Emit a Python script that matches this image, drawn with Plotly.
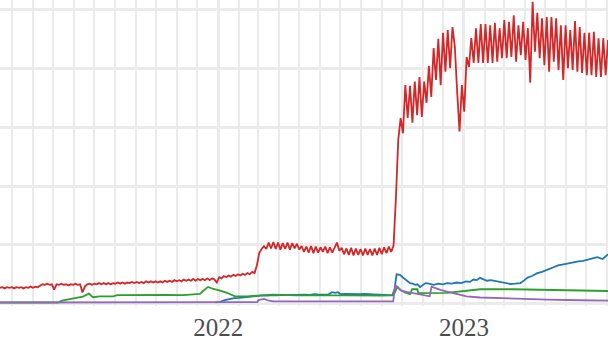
import pandas as pd
import plotly.graph_objects as go

# ---- red series: half-weekly samples starting 2021-02-11 ----
red_start = "2021-02-11"
red_values = [
    2.7, 2.8, 2.6, 2.8, 2.7, 2.8, 2.6, 2.8, 2.7, 2.8, 2.6, 2.8, 2.7, 2.9, 2.7, 2.9, 2.8,
    3.1, 3.3, 3.2, 3.4, 3.2, 3.3,
    2.4,
    3.3, 3.2, 3.4, 3.2, 3.3, 3.1, 3.3, 3.2, 3.4, 3.2, 3.3,
    1.9, 2.9,
    3.3, 3.4, 3.2, 3.4, 3.3, 3.5, 3.3, 3.5, 3.3, 3.5, 3.3, 3.5, 3.4, 3.6, 3.4, 3.6, 3.4, 3.6, 3.5,
    3.7, 3.5, 3.7, 3.5, 3.7, 3.5, 3.8, 3.6, 3.8, 3.6, 3.8, 3.6, 3.8, 3.6, 3.9,
    3.7, 3.9, 3.7, 4.0, 3.8, 4.0, 3.8, 4.1, 3.9, 4.1, 3.9, 4.2, 3.9, 4.2, 4.0, 4.2, 4.0, 4.3, 4.0, 4.3, 4.1,
    3.6,
    4.5, 4.3, 4.7, 4.5, 4.8, 4.6, 4.9, 4.7, 5.0, 4.8, 5.1, 4.9, 5.2, 5.0, 5.4,
    5.2, 6.5, 8.6, 9.3, 9.8,
    9.3, 10.4, 9.4, 10.5, 9.3, 10.4, 9.2, 10.3, 9.3, 10.4, 9.2, 10.3, 9.4, 10.2, 9.2,
    9.8, 8.8, 9.7, 8.7, 9.8, 8.6, 9.7, 8.7, 9.6, 8.8, 9.7, 8.6, 9.6, 8.7, 9.5,
    10.4, 9.0,
    9.5, 8.4, 9.4, 8.3, 9.5, 8.2, 9.4, 8.3, 9.3, 8.2, 9.4, 8.3, 9.3, 8.2, 9.4, 8.3, 9.5, 8.4, 9.6, 8.6, 9.7, 8.8, 9.9,
    18.0, 27.9,
    31.6, 29.0, 37.2, 31.6, 37.1, 30.8, 37.8, 32.1, 38.6, 31.8,
    37.8, 34.2, 40.5, 35.2, 43.5, 38.1, 45.1, 37.2, 46.1, 39.5,
    46.6, 40.1, 47.1, 43.8, 36.0, 29.3, 37.2, 32.7, 42.0, 40.3,
    45.2, 41.0, 46.9, 41.0, 47.6, 41.0, 47.6, 41.0, 47.4, 41.0, 47.8, 41.2,
    46.9, 41.8, 48.3, 41.8, 48.0, 42.0, 49.1, 41.2, 47.4, 42.3, 48.0, 41.5,
    46.9, 37.6, 51.4, 42.9, 49.5, 41.8, 48.6, 40.6, 48.8, 39.5, 48.8, 41.2,
    48.6, 39.8, 47.4, 38.1, 47.4, 40.1, 46.6, 39.8, 48.1, 39.5, 47.1, 39.3,
    46.1, 38.9, 46.1, 38.9, 46.3, 38.6, 45.2, 38.6, 45.2, 38.9, 44.9, 39.8,
]
red_dates = pd.date_range(red_start, periods=len(red_values), freq="84h")

# ---- blue series ----
blue_dates = [
    "2021-12-28", "2022-01-04", "2022-01-11", "2022-01-18", "2022-01-25", "2022-02-01",
    "2022-02-08", "2022-02-15", "2022-02-22", "2022-03-01", "2022-03-08", "2022-03-15",
    "2022-03-22", "2022-03-29", "2022-04-05", "2022-04-12", "2022-04-19", "2022-04-26",
    "2022-05-03", "2022-05-10", "2022-05-17", "2022-05-24", "2022-05-31", "2022-06-07",
    "2022-06-14", "2022-06-19", "2022-06-24", "2022-06-28", "2022-07-02", "2022-07-09",
    "2022-07-16", "2022-07-23", "2022-07-30", "2022-08-06", "2022-08-13", "2022-08-20",
    "2022-08-27", "2022-09-03", "2022-09-10", "2022-09-17", "2022-09-20", "2022-09-23",
    "2022-09-28", "2022-10-02", "2022-10-06", "2022-10-10", "2022-10-13", "2022-10-17",
    "2022-10-21", "2022-10-24", "2022-10-28", "2022-10-31", "2022-11-05", "2022-11-10",
    "2022-11-17", "2022-11-24", "2022-12-01", "2022-12-07", "2022-12-14", "2022-12-21",
    "2022-12-28", "2023-01-04", "2023-01-10", "2023-01-15", "2023-01-20", "2023-01-25",
    "2023-01-30", "2023-02-04", "2023-02-10", "2023-02-19", "2023-02-26", "2023-03-05",
    "2023-03-11", "2023-03-18", "2023-03-26", "2023-04-01", "2023-04-05", "2023-04-12",
    "2023-04-20", "2023-04-27", "2023-05-05", "2023-05-10", "2023-05-14", "2023-05-21",
    "2023-05-29", "2023-06-05", "2023-06-13", "2023-06-20", "2023-06-27", "2023-07-03",
    "2023-07-10", "2023-07-18", "2023-07-26", "2023-08-03",
]
blue_values = [
    0.2, 0.3, 0.6, 0.8, 0.95, 1.0,
    1.1, 1.15, 1.25, 1.3, 1.4, 1.35,
    1.45, 1.4, 1.5, 1.45, 1.5, 1.55,
    1.5, 1.55, 1.5, 1.6, 1.55, 1.6,
    1.55, 1.95, 1.85, 1.95, 1.6, 1.65,
    1.6, 1.65, 1.6, 1.65, 1.6, 1.55,
    1.6, 1.5, 1.45, 1.5, 2.5, 5.0,
    4.9, 4.5, 4.1, 3.8, 3.5, 3.4,
    3.2, 3.3, 2.8, 3.1, 3.5, 3.4,
    3.2, 3.4, 3.3, 3.5, 3.4, 3.6,
    3.5, 3.8, 3.7, 4.1, 4.0, 4.4,
    4.1, 3.9, 4.0, 3.8, 3.7, 3.5,
    3.35, 3.4, 3.5, 4.0, 4.4, 4.7,
    5.2, 5.4, 5.7, 6.0, 6.2, 6.5,
    6.7, 6.9, 7.1, 7.2, 7.3, 7.5,
    7.7, 7.9, 7.6, 8.4,
]

# ---- green series ----
green_dates = [
    "2021-02-11", "2021-05-08", "2021-05-14", "2021-05-31", "2021-06-14", "2021-06-23",
    "2021-06-29", "2021-07-09", "2021-07-29", "2021-08-04", "2021-08-28", "2021-09-22",
    "2021-10-17", "2021-11-10", "2021-12-05", "2021-12-10", "2021-12-16", "2021-12-17",
    "2021-12-25", "2021-12-30", "2022-01-04", "2022-01-14", "2022-01-19", "2022-01-26",
    "2022-02-13", "2022-03-04", "2022-03-23", "2022-04-28", "2022-05-22", "2022-07-11",
    "2022-08-29", "2022-09-18", "2022-09-21", "2022-09-24", "2022-09-28", "2022-10-06",
    "2022-10-13", "2022-10-16", "2022-10-24", "2022-10-25", "2022-12-07", "2022-12-26",
    "2023-01-10", "2023-01-25", "2023-03-15", "2023-05-05", "2023-06-23", "2023-08-03",
]
green_values = [
    0.2, 0.2, 0.5, 0.95, 1.2, 1.7,
    1.1, 1.25, 1.25, 1.45, 1.5, 1.55,
    1.5, 1.45, 1.65, 2.2, 2.75, 2.85,
    2.5, 2.3, 2.2, 1.85, 1.55, 1.25,
    1.25, 1.4, 1.53, 1.42, 1.45, 1.42,
    1.36, 1.4, 2.0, 2.95, 2.4, 1.85,
    1.6, 2.45, 2.45, 1.8, 1.85, 2.1,
    2.38, 2.45, 2.45, 2.38, 2.25, 2.15,
]

# ---- purple series ----
purple_dates = [
    "2021-02-11", "2022-02-28", "2022-03-02", "2022-03-10", "2022-03-16", "2022-03-24",
    "2022-09-18", "2022-09-21", "2022-09-25", "2022-09-30", "2022-10-08", "2022-10-17",
    "2022-11-01", "2022-11-11", "2022-11-14", "2022-11-19", "2022-11-27", "2022-12-07",
    "2022-12-22", "2023-01-05", "2023-01-25", "2023-03-15", "2023-05-05", "2023-06-23",
    "2023-08-03",
]
purple_values = [
    0.2, 0.25, 0.6, 0.8, 0.55, 0.4,
    0.4, 3.2, 2.7, 2.2, 2.0, 1.8,
    1.55, 1.25, 2.9, 2.65, 2.35, 2.05,
    1.65, 1.25, 1.05, 0.85, 0.68, 0.58,
    0.5,
]

series = [
    ("red", red_dates, red_values, "#d62728"),
    ("blue", blue_dates, blue_values, "#1f77b4"),
    ("green", green_dates, green_values, "#2ca02c"),
    ("purple", purple_dates, purple_values, "#9467bd"),
]

fig = go.Figure()
for name, xs, ys, color in series:
    fig.add_trace(go.Scatter(x=xs, y=ys, mode="lines", name=name,
                             line=dict(color=color, width=1.8)))

grid = "#ebebeb"
fig.update_layout(
    width=608, height=342,
    margin=dict(l=0, r=0, t=0, b=36),
    paper_bgcolor="white", plot_bgcolor="white",
    showlegend=False,
    xaxis=dict(
        type="date",
        range=["2021-02-11", "2023-08-03"],
        tick0="2022-01-01", dtick="M12", tickformat="%Y",
        showgrid=True, gridcolor=grid, gridwidth=3,
        zeroline=False, showline=False, ticks="",
        ticklabelstandoff=4,
        tickfont=dict(family="Liberation Serif", size=25, color="#4d4d4d"),
        minor=dict(dtick="M1", showgrid=True, gridcolor=grid, gridwidth=2),
    ),
    yaxis=dict(
        range=[-0.4, 51.7], dtick=10, tick0=0,
        showticklabels=False, showgrid=True, gridcolor=grid, gridwidth=2.5,
        zeroline=True, zerolinecolor=grid, zerolinewidth=3, ticks="",
    ),
)

fig.write_html("out.html")
